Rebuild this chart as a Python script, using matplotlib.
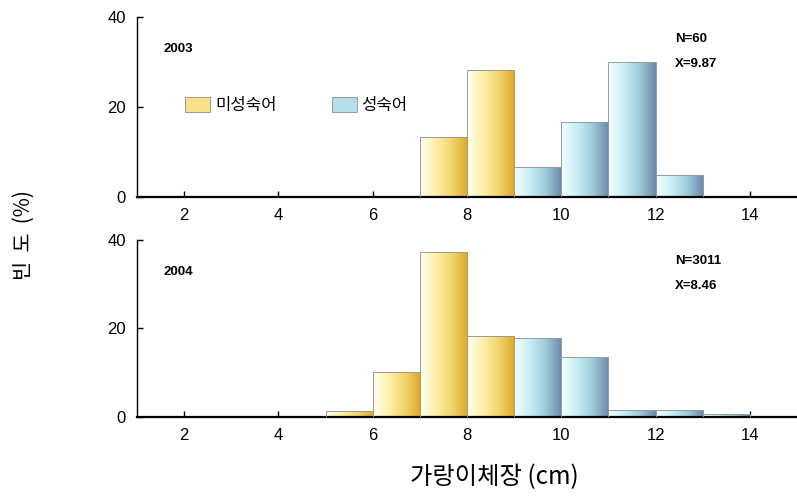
import numpy as np
import matplotlib
matplotlib.use("Agg")
import matplotlib.pyplot as plt
from matplotlib.patches import Patch
from matplotlib.colors import LinearSegmentedColormap

plt.rcParams['font.family'] = ['Liberation Sans', 'Noto Sans CJK KR']

# length class (left edge, cm) and frequency (%)
length_classes = [5, 6, 7, 8, 9, 10, 11, 12, 13]
imm_2003 = [0, 0, 13.3, 28.3, 0, 0, 0, 0, 0]
mat_2003 = [0, 0, 0, 0, 6.7, 16.7, 30.0, 5.0, 0]
imm_2004 = [1.4, 10.2, 37.3, 18.3, 0, 0, 0, 0, 0]
mat_2004 = [0, 0, 0, 0, 17.9, 13.6, 1.6, 1.6, 0.7]
years = ['2003', '2004']
n_text = ['N=60', 'N=3011']
mean_text = ['X=9.87', 'X=8.46']
xticks = [2, 4, 6, 8, 10, 12, 14]
yticks = [0, 20, 40]

yel = LinearSegmentedColormap.from_list('yel', ['#fffff0', '#fdf0a8', '#f3d56a', '#dcaa2c'])
blu = LinearSegmentedColormap.from_list('blu', ['#f2ffff', '#c8eef4', '#9ccbd8', '#6c88aa'])
grad = np.linspace(0, 1, 64).reshape(1, -1)


def gradient_bars(ax, values, cmap):
    bars = ax.bar(length_classes, values, width=1, align='edge',
                  facecolor='none', edgecolor='#9a9a9a', linewidth=0.7, zorder=3)
    for b, v in zip(bars, values):
        if v <= 0:
            continue
        x0, y0 = b.get_x(), b.get_y()
        im = ax.imshow(grad, cmap=cmap, aspect='auto', zorder=2,
                       extent=[x0, x0 + b.get_width(), y0, y0 + b.get_height()])
        im.set_clip_path(b)


fig = plt.figure(figsize=(7.97, 4.98), dpi=100)
ax1 = fig.add_axes([0.172, 0.6044, 0.828, 0.3614])
ax2 = fig.add_axes([0.172, 0.1627, 0.828, 0.3554])

for i, (ax, imm, mat) in enumerate([(ax1, imm_2003, mat_2003), (ax2, imm_2004, mat_2004)]):
    gradient_bars(ax, imm, yel)
    gradient_bars(ax, mat, blu)
    ax.set_xlim(1, 15)
    ax.set_ylim(0, 40)
    ax.set_xticks(xticks)
    ax.set_yticks(yticks)
    ax.tick_params(direction='in', length=4, width=1, labelsize=12, pad=8)
    ax.spines['top'].set_visible(False)
    ax.spines['right'].set_visible(False)
    ax.spines['left'].set_linewidth(1)
    ax.spines['bottom'].set_linewidth(1.6)
    ax.text(0.04, 0.82, years[i], transform=ax.transAxes, fontsize=9.5,
            fontweight='bold', va='center')
    ax.text(0.815, 0.88, n_text[i], transform=ax.transAxes, fontsize=9.5,
            fontweight='bold', va='center')
    ax.text(0.815, 0.74, mean_text[i], transform=ax.transAxes, fontsize=9.5,
            fontweight='bold', va='center')

handles = [Patch(facecolor='#f6e08a', edgecolor='#9a9a9a', linewidth=0.7),
           Patch(facecolor='#b6dfe8', edgecolor='#9a9a9a', linewidth=0.7)]
leg = ax1.legend(handles, ['미성숙어', '성숙어'], loc='center left',
                 bbox_to_anchor=(0.05, 0.51), ncol=2, frameon=False,
                 handlelength=1.5, handleheight=1.0, handletextpad=0.3,
                 columnspacing=3.3, prop={'family': 'Noto Sans CJK KR', 'size': 12})

fig.text(0.03, 0.528, '빈  도  (%)', rotation=90, ha='center', va='center',
         fontsize=15, family='Noto Sans CJK KR')
fig.text(0.62, 0.043, '가랑이체장 (cm)', ha='center', va='center',
         fontsize=17.5, family=['Noto Sans CJK KR'])

fig.savefig('out.png', dpi=100)
